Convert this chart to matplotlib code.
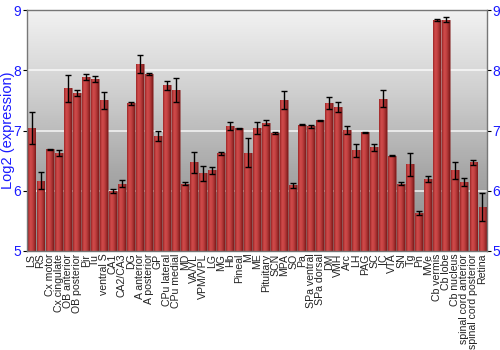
import numpy as np
import matplotlib
matplotlib.use('Agg')
import matplotlib.pyplot as plt
from matplotlib.colors import LinearSegmentedColormap

plt.rcParams['font.family'] = ['Liberation Sans', 'DejaVu Sans']

#Brain regions shown on the x axis
regions = ['LS', 'RS', 'Cx motor', 'Cx cingulate', 'OB anterior', 'OB posterior', 'Pir', 'Tu',
           'ventral S', 'CA1', 'CA2/CA3', 'DG', 'A anterior', 'A posterior', 'GP', 'CPu lateral',
           'CPu medial', 'MD', 'VA/VL', 'VPM/VPL', 'LG', 'MG', 'Hb', 'Pineal', 'M', 'ME',
           'Pituitary', 'SCN', 'MPA', 'SO', 'Pa', 'SPa ventral', 'SPa dorsal', 'DM', 'VMH', 'Arc',
           'LH', 'PAG', 'SC', 'IC', 'VTA', 'SN', 'Tg', 'Pn', 'MVe', 'Cb vermis', 'Cb lobe',
           'Cb nucleus', 'spinal cord anterior', 'spinal cord posterior', 'Retina']

#Log2 expression per region
expression = [7.04, 6.17, 6.69, 6.63, 7.70, 7.63, 7.89, 7.86,
              7.50, 6.00, 6.12, 7.45, 8.10, 7.94, 6.91, 7.75,
              7.68, 6.12, 6.47, 6.29, 6.34, 6.62, 7.08, 7.04, 6.63, 7.04,
              7.13, 6.96, 7.50, 6.09, 7.10, 7.07, 7.17, 7.45, 7.39, 7.01,
              6.67, 6.97, 6.72, 7.53, 6.58, 6.12, 6.44, 5.63, 6.19, 8.84, 8.84,
              6.34, 6.15, 6.47, 5.73]

#Error (half of the error bar)
errors = [0.27, 0.14, 0.01, 0.05, 0.23, 0.05, 0.05, 0.05,
          0.14, 0.03, 0.06, 0.03, 0.15, 0.01, 0.08, 0.07,
          0.20, 0.02, 0.17, 0.12, 0.06, 0.02, 0.07, 0.01, 0.24, 0.10,
          0.04, 0.01, 0.15, 0.04, 0.01, 0.03, 0.01, 0.10, 0.09, 0.07,
          0.11, 0.01, 0.06, 0.14, 0.01, 0.03, 0.19, 0.04, 0.05, 0.02, 0.04,
          0.14, 0.07, 0.04, 0.23]

y_ticks = [5, 6, 7, 8, 9]

fig = plt.figure(figsize=(5, 3.5), dpi=100)
ax = fig.add_axes([0.054, 0.283, 0.92, 0.688])

x = np.arange(len(regions))
ax.set_xlim(-0.5, len(regions) - 0.5)
ax.set_ylim(5, 9)

#Gray gradient background, light on top
bg = LinearSegmentedColormap.from_list('bg', ['#8a8a8a', '#a8a8a8', '#d0d0d0', '#f2f2f2'])
grad = np.linspace(0, 1, 256).reshape(-1, 1)
ax.imshow(grad, cmap=bg, aspect='auto', origin='lower',
          extent=[-0.5, len(regions) - 0.5, 5, 9], zorder=0)

#White grid lines
for yv in [6, 7, 8]:
    ax.axhline(yv, color='white', lw=1.2, alpha=0.8, zorder=1)

#Bars with a horizontal red gradient
bars = ax.bar(x, [v - 5 for v in expression], bottom=5, width=0.88,
              color='none', edgecolor='#8a2a2a', linewidth=0.4, zorder=2)
red = LinearSegmentedColormap.from_list('red', ['#9a2626', '#cf4a4a', '#c84444', '#a83232', '#7e1a1a'])
hgrad = np.linspace(0, 1, 64).reshape(1, -1)
for b in bars:
    im = ax.imshow(hgrad, cmap=red, aspect='auto',
                   extent=[b.get_x(), b.get_x() + b.get_width(), 5, 5 + b.get_height()], zorder=2)
    im.set_clip_path(b)

ax.errorbar(x, expression, yerr=errors, fmt='none', ecolor='black', elinewidth=1,
            capsize=2.5, capthick=1, zorder=3)

ax.set_xticks(x)
ax.set_xticklabels(regions, rotation=90, fontsize=7.6, color='#222222')
ax.tick_params(axis='x', length=0, pad=2)

ax.set_yticks(y_ticks)
ax.tick_params(axis='y', colors='black', labelcolor='#1a1aff', labelsize=10, length=3,
               labelright=True, right=True, pad=1)
ax.set_ylabel('Log2 (expression)', color='#1a1aff', fontsize=10.5)
ax.yaxis.set_label_coords(-0.027, 0.5)

for s in ax.spines.values():
    s.set_color('#777777')
    s.set_linewidth(1)

fig.savefig('out.png', dpi=100)
